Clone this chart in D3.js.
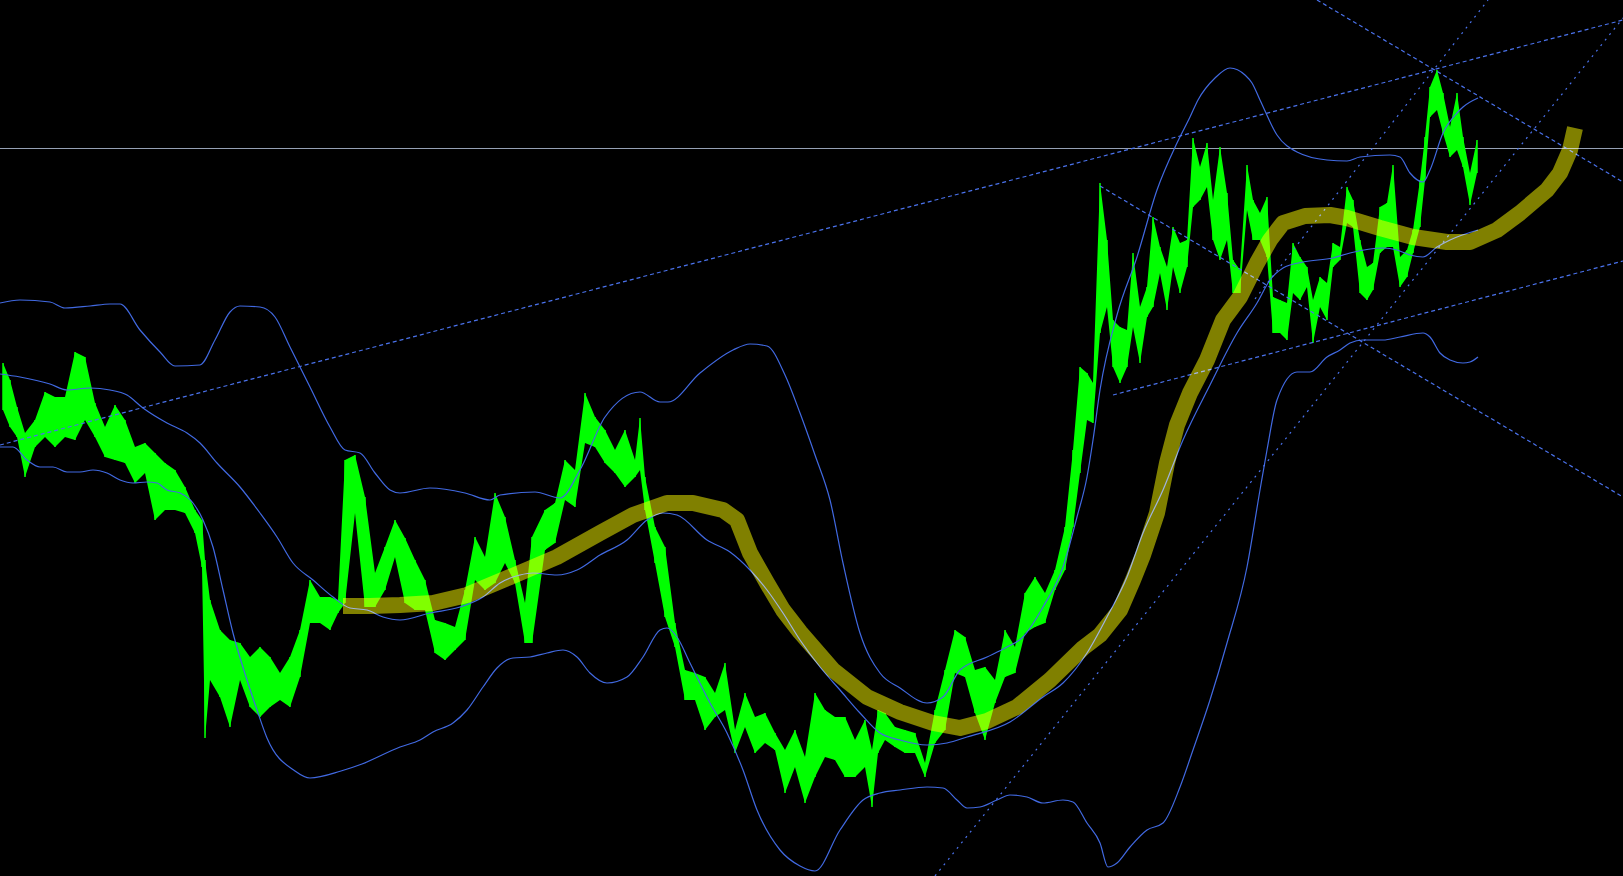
<!DOCTYPE html>
<html>
<head>
<meta charset="utf-8">
<script src="https://cdn.jsdelivr.net/npm/d3@7"></script>
<style>
  html, body { margin: 0; padding: 0; background: #000; overflow: hidden; }
  #chart { width: 1623px; height: 876px; }
</style>
</head>
<body>
<div id="chart"></div>
<script>
// Price bars: time (hours), high, low (pips above base)
const barTime = [0.3, 1.0, 1.7, 2.5, 3.5, 4.5, 5.5, 6.5, 7.5, 8.5, 9.5, 10.5, 11.5, 12.5, 13.5, 14.5, 15.5, 16.5, 17.5, 18.5,
  19.5, 20.2, 20.5, 21, 22, 23, 24, 25, 26, 27, 28, 29, 30, 31, 32, 33, 33.8, 34.5, 35.5, 36.5,
  37.5, 38.5, 39.5, 40.5, 41.5, 42.5, 43.5, 44.5, 45.5, 46.5, 47.5, 48.5, 49.5, 50.5, 51.5, 52.5, 53.2, 54.5, 55.5, 56.5,
  57.5, 58.5, 59.5, 60.5, 61.5, 62.5, 63.5, 64.0, 64.5, 65.5, 66.5, 67.5, 68.5, 69.5, 70.5, 71.5, 72.5, 73.5, 74.5, 75.5,
  76.5, 77.5, 78.5, 79.5, 80.5, 81.5, 82.5, 83.5, 84.5, 85.5, 86.5, 87.2, 87.8, 88.5, 89.5, 90.5, 91.5, 92.5, 93.5, 94.5,
  95.5, 96.5, 97.5, 98.5, 99.5, 100.5, 101.5, 102.5, 103.5, 104.5, 105.5, 106.5, 107.3, 108.0, 108.7, 109.3, 110.0, 110.7, 111.3, 112.0,
  112.7, 113.3, 114.0, 114.7, 115.3, 116.0, 116.7, 117.3, 118.0, 118.7, 119.3, 120.0, 120.7, 121.3, 122.0, 122.7, 123.3, 124.0, 124.7, 125.3,
  126.0, 126.7, 127.3, 128.0, 128.7, 129.3, 130.0, 130.7, 131.3, 132.0, 132.7, 133.3, 134.0, 134.7, 135.3, 136.0, 136.7, 137.3, 138.0, 138.7,
  139.3, 140.0, 140.7, 141.3, 142.0, 142.5, 143.0, 143.7, 144.3, 145.0, 145.7, 146.3, 147.0, 147.7];
const barHigh = [637, 620, 593, 567, 580, 608, 603, 603, 648, 643, 597, 573, 595, 580, 553, 557, 547, 537, 530, 513,
  490, 480, 440, 400, 370, 360, 357, 343, 353, 343, 327, 343, 370, 420, 403, 403, 400, 540, 545, 503,
  427, 453, 480, 462, 440, 420, 380, 377, 373, 410, 463, 443, 507, 483, 440, 397, 463, 490, 497, 540,
  530, 607, 583, 570, 550, 570, 540, 582, 523, 473, 453, 377, 330, 327, 323, 307, 337, 270, 307, 283,
  287, 267, 250, 270, 243, 307, 290, 283, 283, 260, 280, 250, 290, 287, 273, 270, 267, 237, 290, 330,
  370, 363, 330, 333, 320, 370, 353, 407, 423, 407, 430, 473, 550, 633, 627, 617, 817, 760, 680, 673,
  670, 747, 693, 713, 783, 753, 733, 773, 757, 760, 862, 833, 857, 800, 853, 807, 740, 730, 835, 800,
  787, 803, 703, 700, 697, 757, 743, 733, 700, 723, 717, 757, 753, 813, 800, 760, 733, 737, 793, 797,
  835, 743, 750, 770, 820, 863, 913, 930, 907, 873, 907, 863, 827, 860];
const barLow = [590, 573, 563, 523, 553, 563, 553, 563, 560, 580, 563, 543, 540, 537, 517, 527, 480, 490, 490, 487,
  467, 433, 262, 320, 303, 273, 320, 293, 283, 293, 300, 293, 323, 377, 377, 370, 387, 397, 487, 393,
  393, 410, 443, 397, 390, 390, 347, 340, 350, 360, 420, 410, 417, 437, 417, 357, 357, 450, 457, 500,
  493, 557, 553, 537, 527, 513, 523, 530, 490, 437, 383, 353, 300, 300, 270, 283, 290, 247, 273, 247,
  257, 250, 207, 233, 197, 223, 243, 240, 223, 223, 233, 193, 247, 260, 253, 247, 247, 223, 257, 270,
  327, 323, 287, 260, 297, 323, 327, 367, 373, 377, 410, 430, 473, 527, 580, 577, 667, 693, 633, 617,
  633, 673, 637, 683, 693, 727, 690, 733, 707, 733, 793, 800, 813, 760, 740, 760, 707, 707, 790, 760,
  760, 743, 667, 667, 660, 707, 700, 713, 657, 693, 680, 733, 740, 777, 773, 707, 700, 710, 747, 753,
  753, 713, 723, 747, 773, 820, 883, 890, 867, 843, 850, 833, 795, 827];

// Bollinger bands [time, value]
const upperBand = [[0, 697], [2, 700], [5, 698], [6.5, 692], [9, 694], [11, 696], [12, 696], [14, 670], [16, 648], [17.5, 634],
  [20, 635], [21.5, 660], [23, 688], [24, 694], [26, 693], [27.5, 683], [29, 653], [31, 613], [33, 573], [34.5, 550],
  [36, 547], [37.5, 527], [39, 510], [40, 507], [43, 512], [46.5, 507], [49, 500], [50, 505], [53.5, 508], [56, 502],
  [58, 530], [60.5, 583], [64, 608], [66, 598], [66.8, 598], [70, 627], [73.3, 650], [75, 656], [76.7, 654], [78.5, 625],
  [80, 587], [81.5, 545], [83, 500], [84.3, 437], [86, 367], [88, 327], [90, 312], [92.7, 297], [94.3, 303], [96, 330],
  [98.7, 343], [100.7, 353], [102.3, 363], [104.3, 393], [106.3, 433], [107.7, 483], [108.7, 523], [109.3, 560], [110, 610], [111.7, 685],
  [113.7, 743], [115.7, 810], [117.7, 857], [119, 883], [119.8, 900], [121.5, 922], [123, 932], [124.5, 925], [125.2, 917], [126, 900],
  [127.7, 865], [129.7, 848], [132.7, 840], [134.7, 839], [136, 843], [139, 845], [140, 843], [141, 827], [142.3, 818], [143, 830],
  [144.3, 867], [145.7, 887], [146.3, 893], [147.8, 902]];
const middleBand = [[0, 626], [2, 623], [5, 616], [6.7, 610], [9, 612], [11, 610], [12.7, 605], [14.3, 592], [16.7, 577], [18.7, 567],
  [20, 557], [21.7, 537], [24, 513], [26, 487], [27.7, 463], [29.3, 437], [31.3, 420], [33.3, 403], [35, 392], [36.7, 390],
  [38.3, 383], [40, 380], [43, 387], [46, 393], [48.3, 403], [50, 417], [52, 425], [53.3, 427], [55.7, 425], [57.7, 430],
  [60, 445], [62.7, 460], [64.7, 480], [66.3, 487], [67.7, 485], [70.7, 460], [73, 448], [75, 430], [76.7, 410], [78.3, 387],
  [80, 360], [82, 333], [84, 310], [86, 287], [88, 267], [90, 260], [92.7, 255], [94.7, 257], [96.7, 263], [101, 278],
  [104.3, 303], [106.3, 317], [108.7, 347], [110.7, 383], [112.7, 423], [114.3, 467], [116.3, 510], [118.3, 560], [121, 615], [123.7, 667],
  [125.7, 697], [127, 720], [128.3, 732], [130.3, 738], [133.3, 742], [135, 747], [138.3, 752], [139.7, 750], [141, 745], [142.3, 743],
  [143.7, 753], [145, 760], [147.8, 770]];
const lowerBand = [[0, 553], [1.3, 553], [2.7, 540], [4, 533], [5.3, 533], [6.7, 528], [8, 528], [9.3, 530], [10.7, 527], [12, 520],
  [13.3, 517], [14.7, 518], [15.7, 517], [16.7, 510], [18, 507], [19.3, 497], [20.3, 480], [21.3, 453], [22.3, 410], [23.3, 367],
  [24.7, 320], [25.7, 290], [26.7, 262], [29.5, 229], [31, 222], [34.1, 229], [36.2, 236], [40, 253], [42, 260], [43.3, 268],
  [45.3, 277], [46.7, 290], [48.3, 313], [49.7, 332], [51.3, 342], [53, 343], [54.7, 347], [56.3, 350], [57.7, 343], [59, 327],
  [60.7, 317], [62.7, 323], [64.3, 343], [66, 370], [66.7, 372], [67.7, 363], [69, 337], [71, 297], [72.7, 267], [74.3, 230],
  [75.7, 190], [78, 150], [80, 134], [81.5, 129], [84, 170], [86.3, 200], [88, 207], [90, 210], [92.7, 213], [94.3, 212],
  [95.7, 200], [96.7, 192], [98, 193], [99.7, 200], [101, 205], [102.7, 203], [104.3, 197], [106.3, 200], [107.3, 198], [108.7, 177],
  [110, 157], [110.8, 133], [111.7, 137], [113, 153], [114.7, 170], [116.3, 177], [118, 213], [119.3, 250], [121, 300], [122.7, 357],
  [124.7, 433], [126, 510], [126.7, 550], [127.7, 600], [129.7, 628], [131, 628], [132.7, 643], [134, 650], [135, 657], [136.3, 660],
  [138.3, 660], [140, 663], [142.3, 667], [143, 663], [144, 647], [145, 640], [146.3, 637], [147, 638], [147.8, 643]];

// Thick olive average, runs past the last bar
const olive = [[34.3, 394], [37, 394], [40, 395], [43.3, 397], [46.7, 405], [51, 423], [55.7, 443], [60, 467], [63.3, 485], [66.7, 497],
  [69.3, 497], [72.3, 490], [73.7, 480], [75, 447], [76.7, 417], [78.3, 390], [80, 368], [83.3, 330], [86.7, 303], [90, 288],
  [93.3, 277], [96, 272], [98.7, 279], [101.7, 293], [105, 320], [108.3, 352], [110, 365], [112, 390], [113.3, 420], [114.3, 445],
  [115.7, 487], [116.7, 537], [117.7, 575], [119, 607], [120.7, 640], [122.3, 680], [124, 703], [125.7, 737], [127, 760], [128.3, 777],
  [130.5, 784], [133, 785], [134.7, 782], [138, 772], [141.3, 763], [144.7, 758], [147, 758], [149.7, 770], [152, 787], [154.7, 810],
  [156, 827], [157, 850], [157.5, 872]];

// Trend lines: [t1, v1, t2, v2]
const trendShallow = [[0, 555, 162.3, 980], [111.3, 605, 162.3, 739], [110, 814, 162.3, 503], [131.7, 1000, 162.3, 818]];
const trendSteep = [[125.5, 701, 148.8, 1000], [93.5, 124, 162.3, 982]];
const hLevel = 852;

const W = 1623, H = 876;
const x = d3.scaleLinear().domain([0, 162.3]).range([0, W]);
const y = d3.scaleLinear().domain([124, 1000]).range([H, 0]);

const svg = d3.select('#chart').append('svg')
  .attr('width', W).attr('height', H)
  .style('display', 'block')
  .style('background', '#000');

svg.append('rect').attr('width', W).attr('height', H).attr('fill', '#000');
const g = svg.append('g');

// Horizontal level
g.append('line')
  .attr('x1', 0).attr('x2', W)
  .attr('y1', Math.round(y(hLevel)) + 0.5).attr('y2', Math.round(y(hLevel)) + 0.5)
  .attr('stroke', '#95a0b4').attr('stroke-width', 1);

// Bars
const bars = barTime.map((t, i) => ({ t, hi: barHigh[i], lo: barLow[i] }));
g.append('path').datum(bars)
  .attr('d', d3.area().x(d => x(d.t)).y0(d => y(d.lo)).y1(d => y(d.hi)))
  .attr('fill', '#00ff00');
g.append('g').selectAll('line').data(bars).join('line')
  .attr('x1', d => x(d.t)).attr('x2', d => x(d.t))
  .attr('y1', d => y(d.hi)).attr('y2', d => y(d.lo))
  .attr('stroke', '#00ff00').attr('stroke-width', 1.5);

// Bands
const bandLine = d3.line().x(d => x(d[0])).y(d => y(d[1])).curve(d3.curveMonotoneX);
[upperBand, middleBand, lowerBand].forEach(b => {
  g.append('path').attr('d', bandLine(b))
    .attr('fill', 'none').attr('stroke', '#4169e1').attr('stroke-width', 1.2);
});

// Dashed trend lines
const drawTrend = (list, dash) => list.forEach(s => {
  g.append('line')
    .attr('x1', x(s[0])).attr('y1', y(s[1]))
    .attr('x2', x(s[2])).attr('y2', y(s[3]))
    .attr('stroke', '#4a72ec').attr('stroke-width', 1.2)
    .attr('stroke-dasharray', dash);
});
drawTrend(trendShallow, '4,3');
drawTrend(trendSteep, '2,5');

// Olive average on top, screen blended
g.append('path')
  .attr('d', d3.line().x(d => x(d[0])).y(d => y(d[1]))(olive))
  .attr('fill', 'none')
  .attr('stroke', '#808000')
  .attr('stroke-width', 16)
  .attr('stroke-linejoin', 'round')
  .attr('stroke-linecap', 'butt')
  .style('mix-blend-mode', 'screen');
</script>
</body>
</html>
